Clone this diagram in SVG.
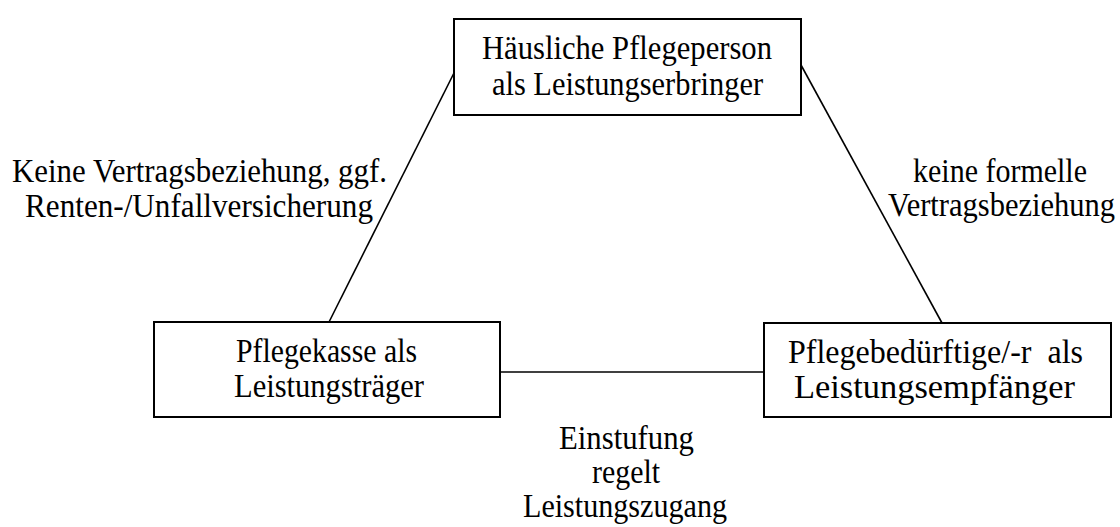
<svg xmlns="http://www.w3.org/2000/svg" width="1120" height="527" viewBox="0 0 1120 527">
<style>
.box{fill:#fff;stroke:#000;stroke-width:2}
.con{stroke:#000;stroke-width:1.6;fill:none}
text{font-family:"Liberation Serif","Times New Roman",serif;font-size:34px;fill:#000;white-space:pre}
</style>
<rect width="1120" height="527" fill="#fff"/>
<g id="connectors">
<line class="con" x1="457" y1="67" x2="329" y2="322"/>
<line class="con" x1="801" y1="65" x2="942" y2="323"/>
<line class="con" x1="500" y1="372" x2="764" y2="372"/>
</g>
<g id="node-pflegeperson">
<rect class="box" x="454" y="19" width="347" height="96"/>
<text x="482" y="59" textLength="290" lengthAdjust="spacingAndGlyphs">Häusliche Pflegeperson</text>
<text x="492" y="95" textLength="271" lengthAdjust="spacingAndGlyphs">als Leistungserbringer</text>
</g>
<g id="node-pflegekasse">
<rect class="box" x="154" y="322" width="346" height="95"/>
<text x="236" y="362" textLength="181" lengthAdjust="spacingAndGlyphs">Pflegekasse als</text>
<text x="234" y="397" textLength="190" lengthAdjust="spacingAndGlyphs">Leistungsträger</text>
</g>
<g id="node-pflegebeduerftige">
<rect class="box" x="764" y="323" width="347" height="94"/>
<text x="788" y="363" textLength="295" lengthAdjust="spacingAndGlyphs">Pflegebedürftige/-r  als</text>
<text x="794" y="398" textLength="281" lengthAdjust="spacingAndGlyphs">Leistungsempfänger</text>
</g>
<g id="labels">
<text x="12" y="182" textLength="375" lengthAdjust="spacingAndGlyphs">Keine Vertragsbeziehung, ggf.</text>
<text x="25" y="217" textLength="348" lengthAdjust="spacingAndGlyphs">Renten-/Unfallversicherung</text>
<text x="913" y="182" textLength="174" lengthAdjust="spacingAndGlyphs">keine formelle</text>
<text x="888" y="216" textLength="227" lengthAdjust="spacingAndGlyphs">Vertragsbeziehung</text>
<text x="559" y="449" textLength="135" lengthAdjust="spacingAndGlyphs">Einstufung</text>
<text x="592" y="483" textLength="68" lengthAdjust="spacingAndGlyphs">regelt</text>
<text x="523" y="517" textLength="204" lengthAdjust="spacingAndGlyphs">Leistungszugang</text>
</g>
</svg>
